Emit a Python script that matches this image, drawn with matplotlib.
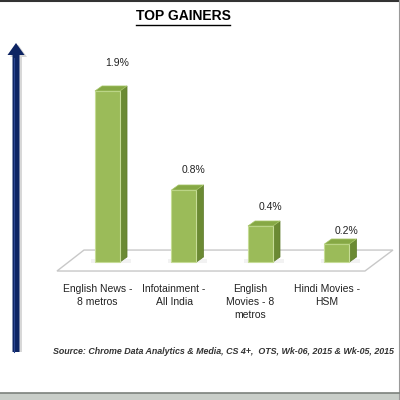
import numpy as np
import matplotlib
matplotlib.use('Agg')
import matplotlib.pyplot as plt
from matplotlib.patches import Polygon, FancyArrow, Rectangle
from matplotlib.lines import Line2D

# chart data
categories = ['English News -\n8 metros', 'Infotainment -\nAll India',
              'English\nMovies - 8\nmetros', 'Hindi Movies -\nHSM']
values = [1.9, 0.8, 0.4, 0.2]
value_labels = ['1.9%', '0.8%', '0.4%', '0.2%']
title = 'TOP GAINERS'
source = 'Source: Chrome Data Analytics & Media, CS 4+,  OTS, Wk-06, 2015 & Wk-05, 2015'

# label offsets above the bars (pixels), as placed in the original
label_offsets = [28, 20, 19, 13]

plt.rcParams['font.family'] = ['Liberation Sans', 'DejaVu Sans']

fig = plt.figure(figsize=(4, 4), dpi=100)
fig.patch.set_facecolor('white')
ax = fig.add_axes([0, 0, 1, 1])
ax.set_xlim(-1.405, 3.824)
ax.set_ylim(-1.533, 2.911)
ax.axis('off')

x = np.arange(len(values))
w = 0.327
dx, dy = 0.092, 0.056   # 3d depth of the bars

# floor
n = len(values)
floor = Polygon([(-0.66, -0.10), (n - 1 + 0.366, -0.10),
                 (n - 1 + 0.732, 0.133), (-0.307, 0.133)],
                closed=True, facecolor='white', edgecolor='#c8c8c8', lw=1.0, zorder=1)
ax.add_patch(floor)

# bars: front faces
ax.bar(x, values, width=w, color='#9bbb59', edgecolor='#c6dc96', linewidth=0.8, zorder=3)
for xi, v in zip(x, values):
    xr = xi + w / 2
    xl = xi - w / 2
    side = Polygon([(xr, 0), (xr + dx, dy), (xr + dx, v + dy), (xr, v)],
                   closed=True, facecolor='#6b8a33', edgecolor='#5d7a2a', lw=0.5, zorder=2)
    top = Polygon([(xl, v), (xr, v), (xr + dx, v + dy), (xl + dx, v + dy)],
                  closed=True, facecolor='#86a845', edgecolor='#a9c86c', lw=0.5, zorder=4)
    ax.add_patch(side)
    ax.add_patch(top)
    # soft shadow on the floor
    ax.add_patch(Polygon([(xl - 0.05, -0.01), (xr + dx + 0.05, -0.01),
                          (xr + dx + 0.05, 0.03), (xl - 0.05, 0.03)],
                         closed=True, facecolor='#f2f2f2', edgecolor='none', zorder=1.5))

# value labels
for xi, v, lab, off in zip(x, values, value_labels, label_offsets):
    ax.annotate(lab, (xi + 0.13, v), xytext=(0, off), textcoords='offset pixels',
                ha='center', va='center', fontsize=7.5, color='#222222')

# category labels
for xi, cat in zip(x, categories):
    ax.text(xi - 0.13, -0.245, cat, ha='center', va='top', fontsize=7.5,
            color='#222222', linespacing=1.35)

# title with underline
t = fig.text(0.4575, 1 - 16 / 400, title, ha='center', va='center',
             fontsize=10, fontweight='bold', color='black')
fig.canvas.draw()
bb = t.get_window_extent().transformed(fig.transFigure.inverted())
fig.add_artist(Line2D([bb.x0, bb.x1], [bb.y0 - 0.004, bb.y0 - 0.004],
                      color='black', lw=1.0))

# source note
fig.text(53 / 400, 1 - 352 / 400, source, ha='left', va='center', fontsize=6.4,
         style='italic', fontweight='bold', color='#333333')

# navy arrow on the left
fig.add_artist(FancyArrow(18.5 / 400, 48 / 400, 0, 307 / 400, width=7 / 400,
                          head_width=17 / 400, head_length=12 / 400,
                          length_includes_head=True, color='#d8d8d8', lw=0,
                          transform=fig.transFigure))
fig.add_artist(FancyArrow(16 / 400, 48 / 400, 0, 309 / 400, width=7 / 400,
                          head_width=17 / 400, head_length=12 / 400,
                          length_includes_head=True, color='#0d2463', lw=0,
                          transform=fig.transFigure))
fig.add_artist(Line2D([13.8 / 400, 13.8 / 400], [48 / 400, 342 / 400],
                      color='#2a4590', lw=0.8))

# window frame bits: top border, right edge and bottom bar
fig.add_artist(Line2D([0, 1], [0.997, 0.997], color='#333333', lw=1.5))
fig.add_artist(Line2D([398.5 / 400, 398.5 / 400], [0, 1], color='#9a9a9a', lw=0.8))
fig.add_artist(Rectangle((0, 0), 1, 7 / 400, facecolor='#c9cec9', edgecolor='none',
                         transform=fig.transFigure))
fig.add_artist(Line2D([0, 1], [7 / 400, 7 / 400], color='#7d827d', lw=1.2))

fig.savefig('out.png', dpi=100)
